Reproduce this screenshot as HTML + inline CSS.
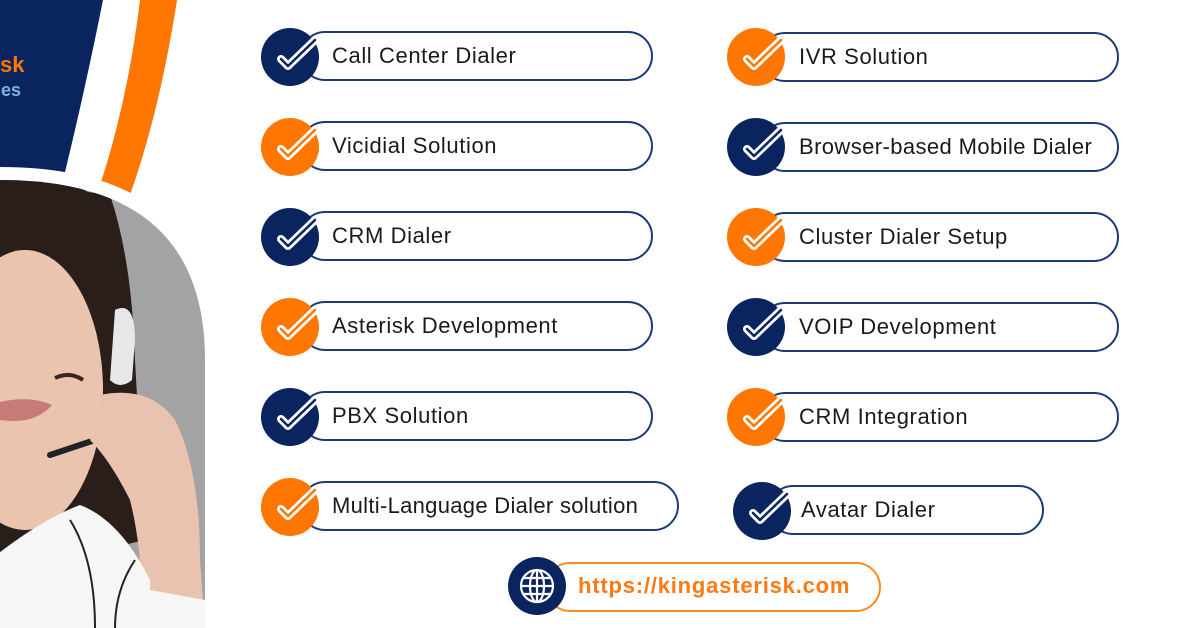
<!DOCTYPE html>
<html><head><meta charset="utf-8"><style>
body{margin:0;width:1200px;height:628px;overflow:hidden;background:#fff;position:relative;font-family:"Liberation Sans",sans-serif}
.pill{position:absolute;height:46px;border:2px solid #1d3a78;border-radius:26px;box-sizing:content-box;background:#fff}
.lbl{position:absolute;font-size:22px;color:#1a1a1a;line-height:26px;white-space:nowrap;letter-spacing:0.6px}
</style></head><body>
<svg width="230" height="628" style="position:absolute;left:0;top:0">
<defs><clipPath id="arch"><path d="M-200,628 L-200,330 Q-200,180 0,180 Q205,180 205,360 L205,628 Z"/></clipPath></defs>
<path d="M0,0 L103,0 Q85,90 65,172 L0,172 Z" fill="#0a2460"/>
<path d="M140,0 L177,0 Q160,110 130,195 L100,185 Q128,100 140,0 Z" fill="#ff7700"/>
<path d="M-200,628 L-200,320 Q-200,167 0,167 Q218,167 218,360 L218,628 Z" fill="#fff"/>
<text x="0" y="72" font-family="Liberation Sans" font-weight="bold" font-size="22" fill="#ff7700">sk</text>
<text x="-4" y="96" font-family="Liberation Sans" font-weight="bold" font-size="18" fill="#7fb1e0">ies</text>
<g clip-path="url(#arch)">
<rect x="-200" y="160" width="420" height="480" fill="#a3a3a3"/>
<path d="M0,180 L110,195 Q132,260 135,360 L145,540 L60,560 L0,560 Z" fill="#2a1e1a"/>
<ellipse cx="25" cy="390" rx="78" ry="140" fill="#ebc4b0"/>
<path d="M0,175 Q60,170 100,200 Q120,230 110,270 Q70,240 0,245 Z" fill="#2a1e1a"/>
<path d="M0,402 Q30,395 52,405 Q35,425 0,420 Z" fill="#c87a78"/>
<path d="M55,378 Q70,371 83,380" stroke="#3a2520" stroke-width="4" fill="none"/>
<path d="M115,310 Q135,300 135,340 L132,380 Q120,390 110,380 Z" fill="#e8e8ea"/>
<path d="M50,455 L95,440" stroke="#222" stroke-width="6" stroke-linecap="round"/>
<path d="M100,395 Q150,385 175,420 Q200,470 200,560 L205,628 L140,628 Q145,560 130,500 Q110,460 90,440 Z" fill="#e9c3b0"/>
<path d="M-10,560 Q40,520 80,505 Q120,520 150,580 L150,628 L-10,628 Z" fill="#f6f6f6"/>
<path d="M70,520 Q95,560 95,628" stroke="#222" stroke-width="2" fill="none"/>
<path d="M135,560 Q115,590 115,628" stroke="#222" stroke-width="2" fill="none"/>
<path d="M150,590 L205,600 L205,628 L150,628 Z" fill="#f6f6f6"/>
</g>
</svg>

<div class="pill" style="left:300px;top:31px;width:349px"></div>
<div class="pill" style="left:300px;top:121px;width:349px"></div>
<div class="pill" style="left:300px;top:211px;width:349px"></div>
<div class="pill" style="left:300px;top:301px;width:349px"></div>
<div class="pill" style="left:300px;top:391px;width:349px"></div>
<div class="pill" style="left:300px;top:481px;width:375px"></div>
<div class="pill" style="left:760px;top:32px;width:355px"></div>
<div class="pill" style="left:760px;top:122px;width:355px"></div>
<div class="pill" style="left:760px;top:212px;width:355px"></div>
<div class="pill" style="left:760px;top:302px;width:355px"></div>
<div class="pill" style="left:760px;top:392px;width:355px"></div>
<div class="pill" style="left:768px;top:485px;width:272px"></div>
<div class="pill" style="left:545px;top:562px;width:332px;border-color:#ff8a1e"></div>

<svg width="1200" height="628" style="position:absolute;left:0;top:0">
<defs>
<path id="cp" d="M-9,2 L-2,9 L25,-17"/>
</defs>
<g fill="#0a2460"><circle cx="290" cy="57" r="29"/><circle cx="290" cy="237" r="29"/><circle cx="290" cy="417" r="29"/>
<circle cx="756" cy="147" r="29"/><circle cx="756" cy="327" r="29"/><circle cx="762" cy="511" r="29"/><circle cx="537" cy="586" r="29"/></g>
<g fill="#ff7700"><circle cx="290" cy="147" r="29"/><circle cx="290" cy="327" r="29"/><circle cx="290" cy="507" r="29"/>
<circle cx="756" cy="57" r="29"/><circle cx="756" cy="237" r="29"/><circle cx="756" cy="417" r="29"/></g>
<g stroke-linecap="round" stroke-linejoin="round" fill="none">
<g stroke="#fff" stroke-width="8">
<use href="#cp" x="290" y="57"/><use href="#cp" x="290" y="237"/><use href="#cp" x="290" y="417"/>
<use href="#cp" x="756" y="147"/><use href="#cp" x="756" y="327"/><use href="#cp" x="762" y="511"/>
<use href="#cp" x="290" y="147"/><use href="#cp" x="290" y="327"/><use href="#cp" x="290" y="507"/>
<use href="#cp" x="756" y="57"/><use href="#cp" x="756" y="237"/><use href="#cp" x="756" y="417"/>
</g>
<g stroke="#0a2460" stroke-width="2.5">
<use href="#cp" x="290" y="57"/><use href="#cp" x="290" y="237"/><use href="#cp" x="290" y="417"/>
<use href="#cp" x="756" y="147"/><use href="#cp" x="756" y="327"/><use href="#cp" x="762" y="511"/>
</g>
<g stroke="#ff7700" stroke-width="2.5">
<use href="#cp" x="290" y="147"/><use href="#cp" x="290" y="327"/><use href="#cp" x="290" y="507"/>
<use href="#cp" x="756" y="57"/><use href="#cp" x="756" y="237"/><use href="#cp" x="756" y="417"/>
</g>
</g>
<g transform="translate(537,586)" stroke="#fff" stroke-width="2.2" fill="none">
<circle r="16"/><ellipse rx="7" ry="16"/><line x1="-16" y1="0" x2="16" y2="0"/><line x1="0" y1="-16" x2="0" y2="16"/>
<path d="M-13,-8 H13 M-13,8 H13"/>
</g>
</svg>

<div class="lbl" style="left:332px;top:43px">Call Center Dialer</div>
<div class="lbl" style="left:332px;top:133px">Vicidial Solution</div>
<div class="lbl" style="left:332px;top:223px">CRM Dialer</div>
<div class="lbl" style="left:332px;top:313px">Asterisk Development</div>
<div class="lbl" style="left:332px;top:403px">PBX Solution</div>
<div class="lbl" style="left:332px;top:493px;letter-spacing:0.3px">Multi-Language Dialer solution</div>
<div class="lbl" style="left:799px;top:44px">IVR Solution</div>
<div class="lbl" style="left:799px;top:134px;letter-spacing:0.4px">Browser-based Mobile Dialer</div>
<div class="lbl" style="left:799px;top:224px">Cluster Dialer Setup</div>
<div class="lbl" style="left:799px;top:314px">VOIP Development</div>
<div class="lbl" style="left:799px;top:404px">CRM Integration</div>
<div class="lbl" style="left:801px;top:497px">Avatar Dialer</div>
<div class="lbl" style="left:578px;top:573px;color:#ff7a12;font-weight:bold;font-size:22px;letter-spacing:0.8px">https://kingasterisk.com</div>
</body></html>
